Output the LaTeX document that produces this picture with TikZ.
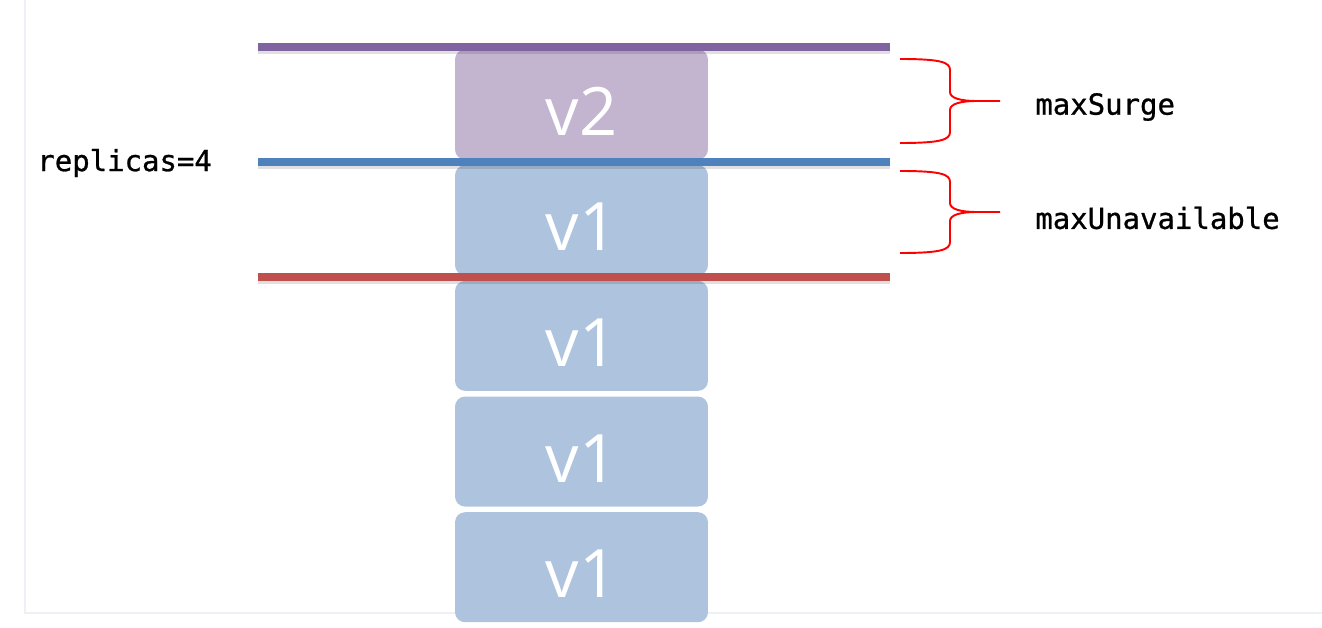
\documentclass[tikz,border=0pt]{standalone}
\usepackage{fontspec}
\setmainfont{Open Sans}
\newfontfamily\lblfont{DejaVu Sans Mono}[FakeBold=0.9]
\usetikzlibrary{positioning}
\definecolor{podone}{HTML}{ADC3DE}
\definecolor{podtwo}{HTML}{C3B4D0}
\definecolor{barpurple}{HTML}{8064A2}
\definecolor{barblue}{HTML}{4F81BD}
\definecolor{barred}{HTML}{C0504D}
\definecolor{framegrey}{HTML}{EDF0F5}

\begin{document}
\begin{tikzpicture}[
  x=0.02cm, y=-0.02cm,
  node distance=0.1cm,
  pod/.style={rectangle, rounded corners=0.2cm, minimum width=5.06cm, minimum height=2.2cm, inner sep=0pt, text=white, text height=35pt, text depth=0pt, font=\fontsize{38}{40}\selectfont},
  bar/.style={line width=4.6pt},
  barshadow/.style={line width=2pt, black, opacity=0.12},
  brc/.style={draw=red, line width=1.1pt},
  lbl/.style={anchor=west, inner sep=0pt, font=\lblfont\fontsize{16.5}{18}\selectfont}
]
\useasboundingbox (0,0) rectangle (1322,628);
\draw[framegrey, line width=0.6pt] (25,0) -- (25,613) -- (1322,613);

% pods
\node[pod, fill=podtwo] (vtwo) at (581.5,104.5) {v2};
\node[pod, fill=podone, below=of vtwo] (vonea) {v1};
\node[pod, fill=podone, below=of vonea] (voneb) {v1};
\node[pod, fill=podone, below=of voneb] (vonec) {v1};
\node[pod, fill=podone, below=of vonec] (voned) {v1};

% bars
\draw[barshadow] (258,52) -- (890,52);
\draw[barshadow] (258,167) -- (890,167);
\draw[barshadow] (258,282) -- (890,282);
\draw[bar, barpurple] (258,47) -- (890,47);
\draw[bar, barblue] (258,162) -- (890,162);
\draw[bar, barred] (258,277) -- (890,277);

% labels
\node[lbl] (replicas) at (37,163) {replicas=4};
\node[lbl] (surge) at (1035,107) {maxSurge};
\node[lbl] (unavail) at (1035,218) {maxUnavailable};

% braces
\coordinate (surgetip) at (1000,101);
\coordinate (unavailtip) at (1000,212);
\draw[brc] (900,59) .. controls (940,59) and (950,62) .. (950,70) -- (950,92)
  .. controls (950,98) and (960,101) .. (977,101) -- (surgetip);
\draw[brc] (900,143) .. controls (940,143) and (950,140) .. (950,132) -- (950,110)
  .. controls (950,104) and (960,101) .. (977,101);
\draw[brc] (900,171) .. controls (940,171) and (950,174) .. (950,182) -- (950,203)
  .. controls (950,209) and (960,212) .. (977,212) -- (unavailtip);
\draw[brc] (900,253) .. controls (940,253) and (950,250) .. (950,242) -- (950,221)
  .. controls (950,215) and (960,212) .. (977,212);
\end{tikzpicture}
\end{document}
